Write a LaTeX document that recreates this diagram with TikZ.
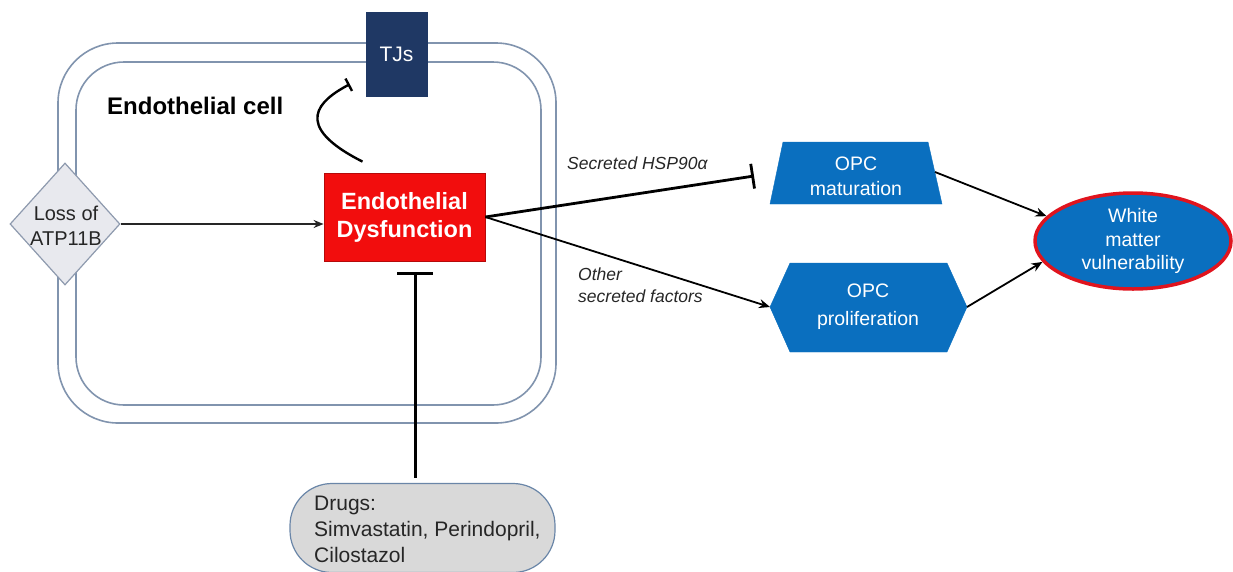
\documentclass[tikz,border=0pt]{standalone}
\usepackage{fontspec}
\setmainfont{Liberation Sans}
\usetikzlibrary{arrows.meta,shapes.geometric,calc}
\definecolor{cellc}{HTML}{8194AE}
\definecolor{tjc}{HTML}{1F3864}
\definecolor{edred}{HTML}{F20D0D}
\definecolor{opcblue}{HTML}{0A6FBF}
\definecolor{diafill}{HTML}{E8E9EE}
\definecolor{dialine}{HTML}{8E9AAE}
\definecolor{drugfill}{HTML}{D9D9D9}
\definecolor{drugline}{HTML}{6A86A8}
\definecolor{wmred}{HTML}{E0141E}
\definecolor{txtc}{HTML}{262626}
\begin{document}
\begin{tikzpicture}[x=1pt,y=-1pt,
  cellline/.style={draw=cellc,line width=1.6pt},
  tjbox/.style={fill=tjc,draw=tjc,text=white,minimum width=61pt,minimum height=84pt,inner sep=0pt,font=\fontsize{21}{24}\selectfont},
  edbox/.style={fill=edred,draw=edred!75!black,line width=0.8pt,text=white,minimum width=161pt,minimum height=88pt,inner sep=0pt,align=center,font=\bfseries\fontsize{23.5}{28}\selectfont},
  lossdia/.style={diamond,fill=diafill,draw=dialine,line width=1.2pt,minimum width=110pt,minimum height=122pt,inner sep=0pt},
  losstxt/.style={text=txtc,align=center,font=\fontsize{20}{25}\selectfont,inner sep=0pt},
  drugbox/.style={fill=drugfill,draw=drugline,line width=1.2pt,rounded corners=42pt,minimum width=265pt,minimum height=89pt,inner sep=0pt},
  drugtxt/.style={inner sep=0pt,align=left,text=txtc,font=\fontsize{21}{26}\selectfont},
  opcshape/.style={fill=opcblue,draw=opcblue},
  opctxt/.style={text=white,align=center,inner sep=0pt,font=\fontsize{19.5}{28}\selectfont},
  wmnode/.style={ellipse,fill=opcblue,draw=wmred,line width=3.5pt,minimum width=196pt,minimum height=96pt,inner sep=0pt,text=white,align=center,font=\fontsize{19.5}{23.5}\selectfont},
  lbl/.style={text=txtc,inner sep=0pt,align=left,font=\itshape\fontsize{17.5}{22}\selectfont},
  arr/.style={draw=black,line width=1.8pt,-{Stealth[length=11pt,width=9pt]}},
  inh/.style={draw=black,line width=2.8pt,-{Bar[width=25pt,line width=2.8pt]}},
  inhdrug/.style={draw=black,line width=3pt,-{Bar[width=36pt,line width=3pt]}},
  inhthin/.style={draw=black,line width=2.4pt,-{Bar[width=14pt,line width=2.4pt]}}
]
\useasboundingbox (0,0) rectangle (1233,571);
% endothelial cell membrane (double line)
\draw[cellline,rounded corners=60pt] (58,43) rectangle (556,423);
\draw[cellline,rounded corners=48pt] (76,62) rectangle (541,405);
\node[font=\bfseries\fontsize{24}{28}\selectfont,text=black,anchor=west,inner sep=0pt] (celllbl) at (107,106) {Endothelial cell};
% tight junctions
\node[tjbox] (tj) at (396.5,54) {TJs};
% endothelial dysfunction
\node[edbox] (ed) at (404.5,217) {Endothelial\\Dysfunction};
% loss of ATP11B
\node[lossdia] (loss) at (65,224) {};
\node[losstxt] (losst) at (66,226) {Loss of\\ATP11B};
% drugs
\node[drugbox] (drugs) at (422.5,528) {};
\node[drugtxt,anchor=west] (drugst) at (314,529) {Drugs:\\Simvastatin, Perindopril,\\Cilostazol};
% OPC maturation (trapezoid)
\coordinate (m1) at (783,142);
\coordinate (m2) at (928,142);
\coordinate (m3) at (942,204);
\coordinate (m4) at (770,204);
\fill[opcshape] (m1) -- (m2) -- (m3) -- (m4) -- cycle;
\node[opctxt,font=\fontsize{19.5}{25}\selectfont] (mat) at (856,176) {OPC\\maturation};
% OPC proliferation (hexagon)
\coordinate (p1) at (770,307);
\coordinate (p2) at (790,263);
\coordinate (p3) at (947,263);
\coordinate (p4) at (967,307);
\coordinate (p5) at (947,352);
\coordinate (p6) at (790,352);
\fill[opcshape] (p1) -- (p2) -- (p3) -- (p4) -- (p5) -- (p6) -- cycle;
\node[opctxt] (prol) at (868,307) {OPC\\proliferation};
% white matter
\node[wmnode] (wm) at (1133,241) {White\\matter\\vulnerability};
% labels
\node[lbl,anchor=west] (hsp) at (567,163) {Secreted HSP90α};
\node[lbl,anchor=north west] (oth) at (578,268) {Other\\secreted factors};
% connectors
\draw[draw=txtc,line width=1.6pt,-{Stealth[length=10pt,width=8pt]}] (loss.east) -- (loss.east -| ed.west);
\coordinate (tjend) at ($(tj.south west)+(-16,-12)$);
\coordinate (curvestart) at ($(ed.north)+(-42,-11)$);
\draw[inhthin] (curvestart) .. controls (290,125) and (320,100) .. (tjend);
\coordinate (dtop) at (415,272);
\draw[inhdrug] ($(drugs.north -| dtop)+(0,-5)$) -- (dtop);
\coordinate (hspend) at (754,176);
\draw[inh] (ed.east) -- (hspend);
\draw[arr] (ed.east) -- (p1);
\coordinate (matout) at (935,172);
\draw[arr] (matout) -- (wm.164);
\draw[arr] (p4) -- (wm.193);
\end{tikzpicture}
\end{document}
